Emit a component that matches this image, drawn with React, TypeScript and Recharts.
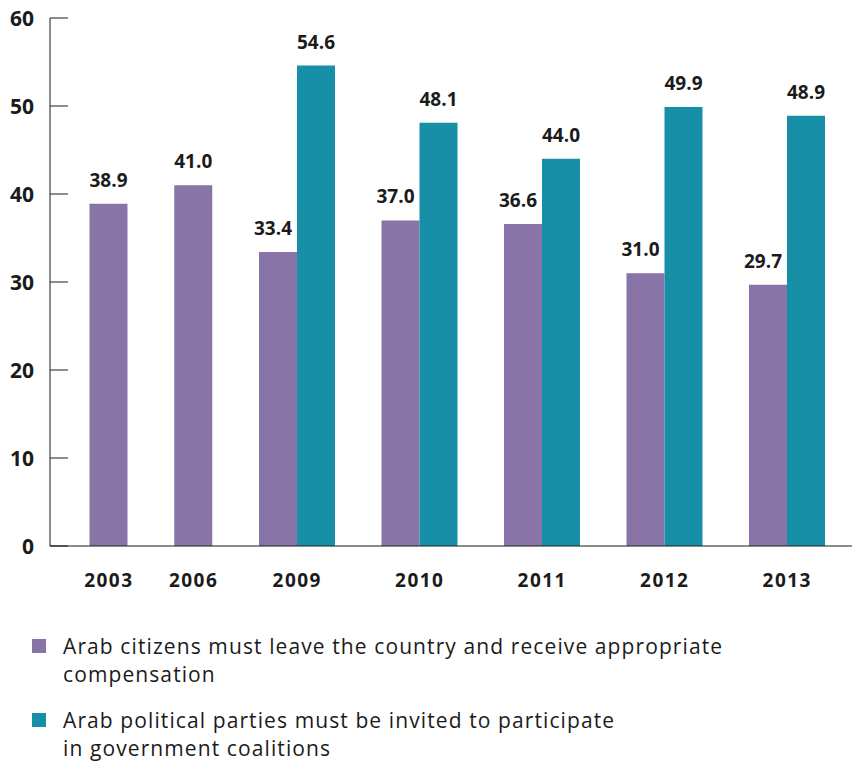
import { BarChart, Bar, XAxis, YAxis, LabelList } from 'recharts';

const earlyYears = ['2003', '2006'];
const earlyLeave = [38.9, 41.0];

const laterYears = ['2009', '2010', '2011', '2012', '2013'];
const laterLeave = [33.4, 37.0, 36.6, 31.0, 29.7];
const laterParties = [54.6, 48.1, 44.0, 49.9, 48.9];

const yTicks = [0, 10, 20, 30, 40, 50, 60];

const legendItems = [
  { lines: ['Arab citizens must leave the country and receive appropriate', 'compensation'], color: '#8974A7' },
  { lines: ['Arab political parties must be invited to participate', 'in government coalitions'], color: '#1790A7' },
];

const PURPLE = '#8974A7';
const TEAL = '#1790A7';
const INK = '#1b1b1b';
const FONT = '"Open Sans", sans-serif';

const earlyData = earlyYears.map((year, i) => ({ year, leave: earlyLeave[i] }));
const laterData = laterYears.map((year, i) => ({ year, leave: laterLeave[i], parties: laterParties[i] }));

const CHART_H = 610;
const MARGIN = { top: 18, right: 0, bottom: 0, left: 0 };

function YTick({ x, y, payload }: any) {
  return (
    <g>
      <line x1={x} x2={x + 18} y1={y} y2={y} stroke={INK} strokeWidth={1} />
      <text x={x - 16} y={y} dy="0.36em" textAnchor="end" fontSize={21} fontWeight={700} fill={INK}
        fontFamily={FONT}>
        {payload.value}
      </text>
    </g>
  );
}

// value label above a bar; shift nudges it sideways like the original
const valueLabel = (shift: number) => (props: any) => {
  const { x, y, width, value } = props;
  if (value == null) return null;
  return (
    <text x={x + width / 2 + shift} y={y - 17} textAnchor="middle" fontSize={19} fontWeight={700} fill={INK}
      fontFamily={FONT}>
      {Number(value).toFixed(1)}
    </text>
  );
};

const xTickStyle = { fontSize: 19, fontWeight: 700, fill: INK, fontFamily: FONT, letterSpacing: 1.5 };

export default function App() {
  return (
    <div style={{ position: 'absolute', left: 0, top: 0, width: 852, height: 762, background: '#fff' }}>
      {/* first two years: single series, narrower spacing */}
      <div style={{ position: 'absolute', left: 0, top: 0 }}>
        <BarChart width={236} height={CHART_H} data={earlyData} margin={MARGIN} barSize={38}>
          <XAxis dataKey="year" tickLine={false} tickSize={0} tickMargin={28} padding={{ left: 16.5, right: 0 }}
            axisLine={{ stroke: INK, strokeWidth: 1.2 }} tick={xTickStyle} height={64} interval={0} />
          <YAxis domain={[0, 60]} ticks={yTicks} width={50} tickLine={false} tickSize={0} tickMargin={0}
            axisLine={{ stroke: INK, strokeWidth: 1 }} tick={<YTick />} interval={0} />
          <Bar dataKey="leave" fill={PURPLE} isAnimationActive={false}>
            <LabelList dataKey="leave" content={valueLabel(0)} />
          </Bar>
        </BarChart>
      </div>
      {/* 2009 - 2013: both series */}
      <div style={{ position: 'absolute', left: 236, top: 0 }}>
        <BarChart width={616} height={CHART_H} data={laterData} margin={MARGIN} barSize={38} barGap={0}>
          <XAxis dataKey="year" tickLine={false} tickSize={0} tickMargin={28} padding={{ left: 0, right: 3.5 }}
            axisLine={{ stroke: INK, strokeWidth: 1.2 }} tick={xTickStyle} height={64} interval={0} />
          <YAxis domain={[0, 60]} ticks={yTicks} hide width={0} />
          <Bar dataKey="leave" fill={PURPLE} isAnimationActive={false}>
            <LabelList dataKey="leave" content={valueLabel(-5)} />
          </Bar>
          <Bar dataKey="parties" fill={TEAL} isAnimationActive={false}>
            <LabelList dataKey="parties" content={valueLabel(0)} />
          </Bar>
        </BarChart>
      </div>
      {/* legend */}
      {legendItems.map((item, i) => (
        <div key={i} style={{ position: 'absolute', left: 0, top: 632 + i * 74, width: 852 }}>
          <div style={{ position: 'absolute', left: 32, top: 7, width: 14, height: 14, background: item.color }} />
          <div style={{ position: 'absolute', left: 63, top: 0, fontFamily: FONT, fontSize: 21, letterSpacing: 1.1,
            lineHeight: '28px', color: INK, whiteSpace: 'nowrap' }}>
            {item.lines.map((l, j) => (
              <div key={j}>{l}</div>
            ))}
          </div>
        </div>
      ))}
    </div>
  );
}
